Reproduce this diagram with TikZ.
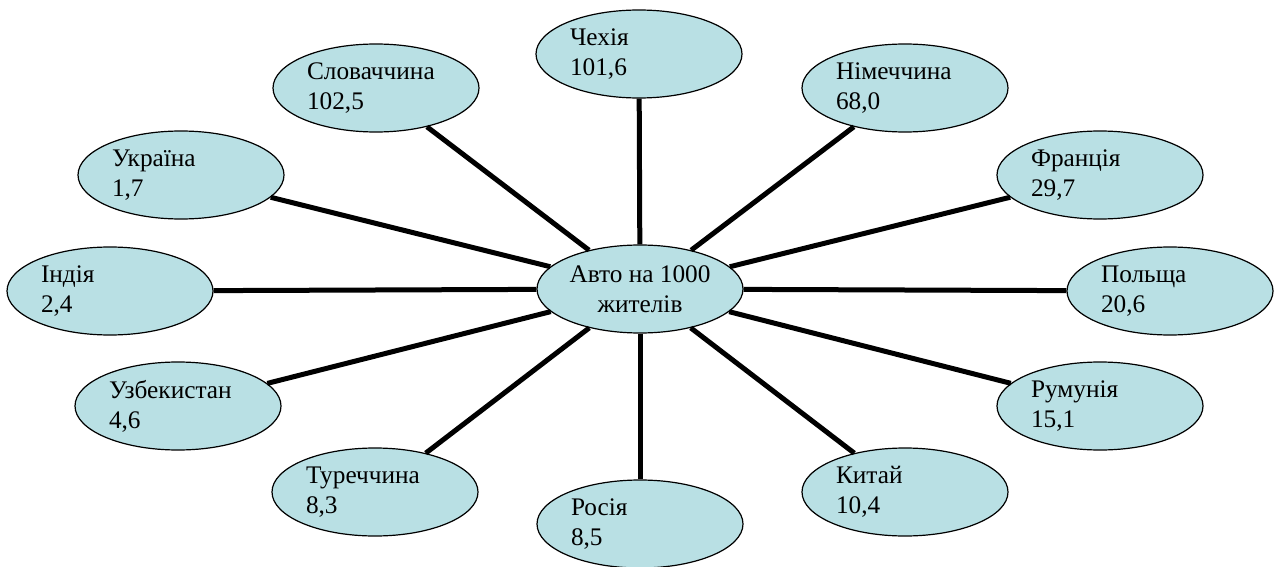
\documentclass[tikz,border=0pt]{standalone}
\usepackage{fontspec}
\setmainfont{Liberation Serif}
\usetikzlibrary{shapes.geometric}
\definecolor{bubblefill}{RGB}{185,224,228}
\begin{document}
\begin{tikzpicture}[x=0.5pt,y=-0.5pt,
  base/.style={ellipse,draw=black,line width=0.6pt,fill=bubblefill,
    minimum width=103pt,minimum height=44pt,inner sep=0pt,
    font=\fontsize{12.65}{15}\selectfont},
  bubble/.style={base,text width=69pt,align=left},
  hub/.style={base,align=center},
  link/.style={line width=2.5pt}]
\useasboundingbox (0,0) rectangle (1274,567);
\node[hub] (c) at (640,289) {\raisebox{-1.5pt}{Авто на 1000}\\\raisebox{-1.5pt}{жителів}};
\node[bubble] (cz) at (639,54) {Чехія\\101,6};
\node[bubble] (sk) at (376,88) {Словаччина\\102,5};
\node[bubble] (de) at (905,88) {Німеччина\\68,0};
\node[bubble] (ua) at (181,175) {Україна\\1,7};
\node[bubble] (fr) at (1100,175) {Франція\\29,7};
\node[bubble] (in) at (110,291) {Індія\\2,4};
\node[bubble] (pl) at (1170,291) {Польща\\20,6};
\node[bubble] (uz) at (178,406) {Узбекистан\\4,6};
\node[bubble] (ro) at (1100,406) {Румунія\\15,1};
\node[bubble] (tr) at (375,492) {Туреччина\\8,3};
\node[bubble] (cn) at (905,492) {Китай\\10,4};
\node[bubble] (ru) at (640,524) {Росія\\8,5};
\foreach \n in {cz,sk,de,ua,fr,in,pl,uz,ro,tr,cn,ru}
  \draw[link] (c) -- (\n);
\end{tikzpicture}
\end{document}
